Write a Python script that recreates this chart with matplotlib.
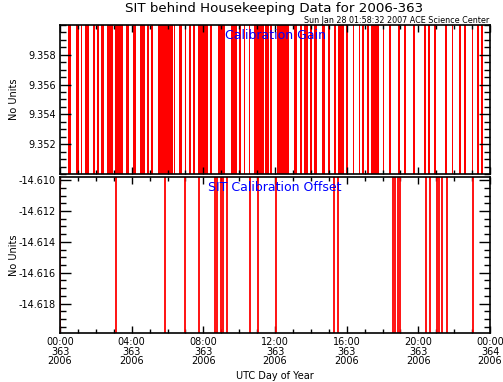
import matplotlib
matplotlib.use("Agg")
import matplotlib.pyplot as plt
from matplotlib.ticker import MultipleLocator, AutoMinorLocator, FixedLocator

# hours of day 363 (2006) during which the calibration gain reading is at its low level
gain_start = [0.45, 0.91, 1.16, 1.38, 1.84, 2.08, 2.31, 2.64, 3.09, 3.70, 4.07, 4.45, 4.87,
              5.10, 5.47, 6.36, 6.62, 6.96, 7.18, 7.42, 7.70, 8.39, 8.82, 9.56, 10.01, 10.25,
              10.53, 10.81, 11.46, 11.74, 12.11, 13.04, 13.41, 13.60, 13.97, 14.16, 14.62,
              14.96, 15.28, 15.52, 15.96, 16.34, 16.67, 16.86, 17.12, 17.36, 18.01, 18.38,
              18.85, 19.22, 19.69, 20.33, 20.52, 20.89, 21.50, 21.88, 22.29, 22.57, 22.99,
              23.26, 23.50]
gain_end = [0.63, 1.04, 1.23, 1.60, 1.94, 2.16, 2.44, 2.96, 3.52, 3.85, 4.24, 4.76, 4.95,
            5.19, 6.31, 6.44, 6.81, 7.05, 7.33, 7.55, 8.26, 8.48, 9.19, 9.88, 10.12, 10.34,
            10.62, 11.37, 11.65, 11.83, 12.76, 13.23, 13.51, 13.84, 14.07, 14.34, 14.77,
            15.09, 15.40, 15.83, 16.07, 16.43, 16.76, 16.98, 17.23, 17.82, 18.10, 18.47,
            18.98, 19.31, 19.83, 20.43, 20.65, 20.99, 21.58, 21.95, 22.38, 22.66, 23.07,
            23.37, 23.63]
gain_levels = [9.350, 9.360]
gain_ticks = [9.352, 9.354, 9.356, 9.358]

# hours at which the calibration offset jumps to its low level
offset_times = [0.0, 3.11, 5.85, 6.96, 7.74, 8.65, 8.74, 9.00, 9.11, 9.30, 10.59, 11.05,
                12.07, 15.31, 15.51, 18.56, 18.69, 18.86, 18.99, 20.44, 20.63, 21.02, 21.15,
                21.33, 21.60, 23.03]
offset_levels = [-14.6199, -14.6098]
offset_ticks = [-14.618, -14.616, -14.614, -14.612, -14.610]

tick_hours = [0, 4, 8, 12, 16, 20, 24]
tick_labels = ["00:00\n363\n2006", "04:00\n363\n2006", "08:00\n363\n2006",
               "12:00\n363\n2006", "16:00\n363\n2006", "20:00\n363\n2006",
               "00:00\n364\n2006"]

plt.rcParams['font.family'] = 'DejaVu Sans'

fig = plt.figure(figsize=(5.03, 3.82), dpi=100)
ax1 = fig.add_axes([0.1193, 0.5445, 0.8549, 0.3901])
ax2 = fig.add_axes([0.1193, 0.1283, 0.8549, 0.4084])

for s, e in zip(gain_start, gain_end):
    ax1.axvspan(s, e, color='red', lw=0)
ax1.set_ylim(gain_levels)
ax1.set_yticks(gain_ticks)
ax1.yaxis.set_major_formatter(plt.FormatStrFormatter('%.3f'))

ax2.vlines(offset_times, offset_levels[0], offset_levels[1], color='red', lw=1.3)
ax2.set_ylim(offset_levels)
ax2.set_yticks(offset_ticks)
ax2.yaxis.set_major_formatter(plt.FormatStrFormatter('%.3f'))

for ax in (ax1, ax2):
    ax.set_xlim(0, 24)
    ax.set_xticks(tick_hours)
    ax.xaxis.set_minor_locator(AutoMinorLocator(4))
    ax.yaxis.set_minor_locator(MultipleLocator(0.0005))
    ax.tick_params(which='both', direction='in', top=True, right=True, labelsize=7,
                   width=1, color='black', pad=3)
    ax.tick_params(axis='y', which='major', length=8)
    ax.tick_params(axis='y', which='minor', length=4)
    ax.tick_params(axis='x', which='major', length=5)
    ax.tick_params(axis='x', which='minor', length=3)
    ax.set_ylabel('No Units', fontsize=7)
    ax.yaxis.set_label_coords(-0.095, 0.5)
    for sp in ax.spines.values():
        sp.set_linewidth(1.2)

ax1.set_xticklabels([])
ax2.set_xticklabels(tick_labels, fontsize=7, linespacing=0.93)
ax2.set_xlabel('UTC Day of Year', fontsize=7)
ax2.xaxis.set_label_coords(0.5, -0.245)

ax1.text(0.5, 0.93, 'Calibration Gain', transform=ax1.transAxes, color='blue',
         ha='center', va='center', fontsize=9)
ax2.text(0.5, 0.93, 'SIT Calibration Offset', transform=ax2.transAxes, color='blue',
         ha='center', va='center', fontsize=9)

fig.text(0.545, 0.977, 'SIT behind Housekeeping Data for 2006-363', ha='center',
         va='center', fontsize=9.6)
fig.text(0.973, 0.947, 'Sun Jan 28 01:58:32 2007 ACE Science Center', ha='right',
         va='center', fontsize=5.8)

fig.savefig('out.png', dpi=100)
